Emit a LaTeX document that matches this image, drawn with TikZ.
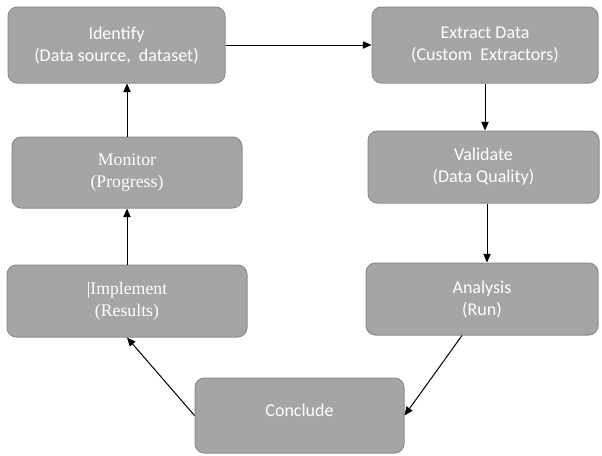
\documentclass[tikz,border=0pt]{standalone}
\usepackage{fontspec}
\setmainfont{Liberation Serif}
\newfontfamily\calib{Carlito}
\usetikzlibrary{arrows.meta,calc}
\definecolor{boxfill}{HTML}{A5A5A5}
\definecolor{boxline}{HTML}{8C8C8C}
\tikzset{
  box/.style={draw=boxline, fill=boxfill, line width=0.75pt, rounded corners=7pt,
    text=white, align=center, font=\calib\fontsize{13.5}{16.5}\selectfont, inner sep=0pt},
  sbox/.style={box, font=\fontsize{13.3}{16.5}\selectfont},
  arr/.style={draw=black, line width=0.75pt, -{Triangle[length=6.5pt,width=5.5pt]}}
}
\begin{document}
\begin{tikzpicture}[x=0.75pt,y=-0.75pt]
\path[use as bounding box, fill=white] (0,0) rectangle (602,455);
\node[box, minimum width=162.75pt, minimum height=57pt] (idf) at (116.5,45) {Identify\\(Data source,\ \ dataset)};
\node[sbox, minimum width=172.5pt, minimum height=53.25pt] (mon) at (127,172.5) {Monitor\\(Progress)};
\node[sbox, minimum width=180pt, minimum height=54pt] (imp) at (127,301) {|Implement\\(Results)};
\node[box, minimum width=156.75pt, minimum height=56.25pt, text depth=8pt] (con) at (299.5,415.5) {Conclude};
\node[box, minimum width=169.5pt, minimum height=57pt] (ext) at (485,45) {Extract Data\\(Custom\ \ Extractors)};
\node[box, minimum width=173.25pt, minimum height=54pt] (val) at (483.5,167) {Validate\\(Data Quality)};
\node[box, minimum width=174pt, minimum height=54pt] (ana) at (482,299) {Analysis\\(Run)};
\coordinate (v1) at ($(val.south)+(3.5,0)$);
\coordinate (a1) at ($(ana.south)+(-20,0)$);
\draw[arr] (idf.east) -- (ext.west);
\draw[arr] (ext.south) -- (ext.south |- val.north);
\draw[arr] (v1) -- (v1 |- ana.north);
\draw[arr] (a1) -- (con.east);
\draw[arr] (con.west) -- (imp.south);
\draw[arr] (imp.north) -- (mon.south);
\draw[arr] (mon.north) -- (mon.north |- idf.south);
\end{tikzpicture}
\end{document}
